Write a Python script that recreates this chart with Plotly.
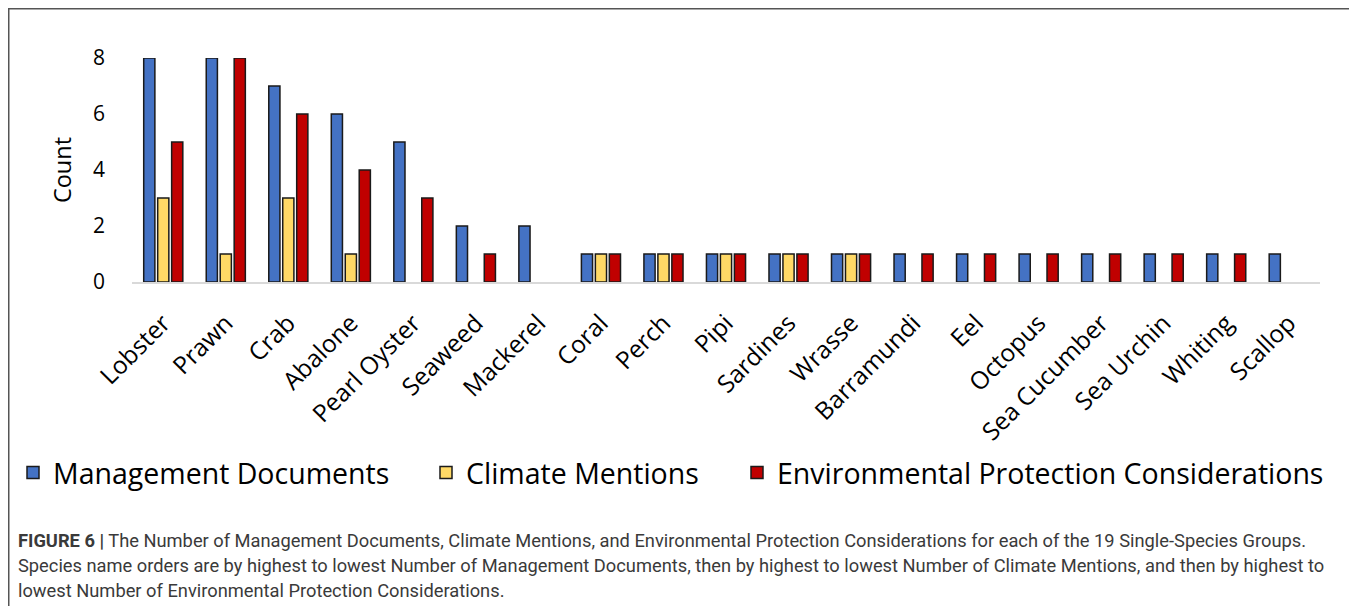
import plotly.graph_objects as go

species = ["Lobster", "Prawn", "Crab", "Abalone", "Pearl Oyster", "Seaweed", "Mackerel",
           "Coral", "Perch", "Pipi", "Sardines", "Wrasse", "Barramundi", "Eel", "Octopus",
           "Sea Cucumber", "Sea Urchin", "Whiting", "Scallop"]
management_documents = [8, 8, 7, 6, 5, 2, 2, 1, 1, 1, 1, 1, 1, 1, 1, 1, 1, 1, 1]
climate_mentions = [3, 1, 3, 1, 0, 0, 0, 1, 1, 1, 1, 1, 0, 0, 0, 0, 0, 0, 0]
environmental_protection = [5, 8, 6, 4, 3, 1, 0, 1, 1, 1, 1, 1, 1, 1, 1, 1, 1, 1, 0]
y_ticks = [0, 2, 4, 6, 8]

caption_lines = [
    "<b>FIGURE 6 |</b> The Number of Management Documents, Climate Mentions, and Environmental Protection Considerations for each of the 19 Single-Species Groups.",
    "Species name orders are by highest to lowest Number of Management Documents, then by highest to lowest Number of Climate Mentions, and then by highest to",
    "lowest Number of Environmental Protection Considerations.",
]

OFF = 8  # browser body margin
W, H = 1357 - OFF, 606 - OFF
L, R, T, B = 132 - OFF, 1320 - OFF, 58 - OFF, 282 - OFF  # plot area in figure pixels

def px(x):
    return (x - OFF - L) / (R - L)

def py(y):
    return (B - (y - OFF)) / (B - T)

font_main = "Open Sans, Calibri, sans-serif"

series = [
    ("Management Documents", management_documents, "#4472C4", "legend", 13),
    ("Climate Mentions", climate_mentions, "#FFD966", "legend2", 426),
    ("Environmental Protection Considerations", environmental_protection, "#C00000", "legend3", 737),
]

fig = go.Figure()
legends = {}
for name, vals, col, leg, lx in series:
    fig.add_trace(go.Bar(
        x=species, y=[v if v else None for v in vals], name=name, legend=leg,
        marker=dict(color=col, line=dict(color="#1a1a1a", width=1.5)),
    ))
    legends[leg] = dict(
        orientation="h", x=px(lx), xanchor="left", y=py(473), yanchor="middle",
        font=dict(size=28.5, family=font_main, color="#000000"),
        bgcolor="rgba(0,0,0,0)",
    )

fig.update_layout(
    width=W, height=H,
    margin=dict(l=L, r=W - R, t=T, b=H - B, autoexpand=False),
    paper_bgcolor="white", plot_bgcolor="white",
    barmode="group", bargap=0.33, bargroupgap=0.2,
    font=dict(family=font_main, color="#000000"),
    showlegend=True,
    xaxis=dict(
        tickangle=-45, tickfont=dict(size=24.5), showline=True, linecolor="#d9d9d9",
        linewidth=2, ticks="", showgrid=False, zeroline=False, ticklabelstandoff=15,
    ),
    yaxis=dict(
        range=[0, 8], tickvals=y_ticks, tickfont=dict(size=21), showline=False,
        showgrid=False, zeroline=False, ticks="", ticklabelstandoff=26,
        title=dict(text="Count", font=dict(size=23.5), standoff=14),
    ),
    **legends,
)

# border around the figure
fig.add_shape(type="rect", xref="paper", yref="paper",
              x0=px(OFF + 0.75), x1=px(1355), y0=py(620), y1=py(OFF + 0.75),
              line=dict(color="#555555", width=1.5), fillcolor="rgba(0,0,0,0)")

for i, line in enumerate(caption_lines):
    fig.add_annotation(
        text=line, xref="paper", yref="paper", x=px(16), y=py(540 + 25 * i),
        xanchor="left", yanchor="middle", showarrow=False, align="left",
        font=dict(family="Roboto, Liberation Sans, sans-serif", size=18.3, color="#3a3a3a"),
    )

fig.write_html("out.html")
